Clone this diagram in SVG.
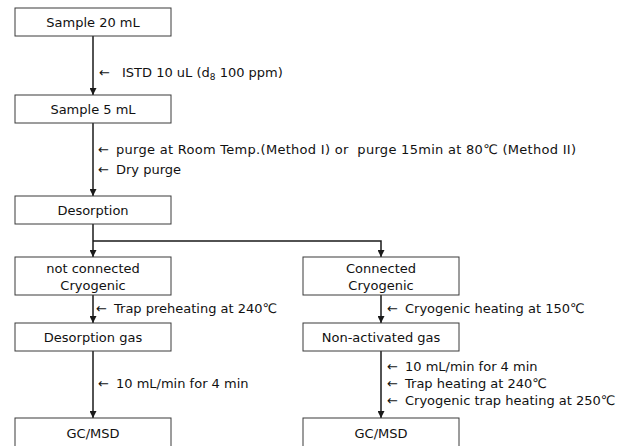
<svg xmlns="http://www.w3.org/2000/svg" width="630" height="446" viewBox="0 0 630 446">
<style>
  .box { fill: #ffffff; stroke: #3a3a3a; stroke-width: 1; }
  .t { font-family: "DejaVu Sans", "Liberation Sans", sans-serif; font-size: 13px; fill: #111111; }
  .c { text-anchor: middle; }
  .ln { fill: none; stroke: #1a1a1a; stroke-width: 1.5; marker-end: url(#ah); }
</style>
<defs>
  <marker id="ah" viewBox="0 0 8 8" refX="8" refY="4" markerWidth="8" markerHeight="7" markerUnits="userSpaceOnUse" orient="auto">
    <path d="M0,0 L8,4 L0,8 z" fill="#1a1a1a"/>
  </marker>
</defs>
<rect width="630" height="446" fill="#ffffff"/>

<g id="connectors">
  <path class="ln" d="M93,36 V95"/>
  <path class="ln" d="M93,123 V196"/>
  <path class="ln" d="M93,224 V257"/>
  <path class="ln" d="M93,241 H381 V257"/>
  <path class="ln" d="M93,295 V323"/>
  <path class="ln" d="M381,295 V323"/>
  <path class="ln" d="M93,351 V418"/>
  <path class="ln" d="M381,351 V418"/>
</g>

<g id="labels">
  <text class="t" x="99" y="77">←<tspan x="122">ISTD 10 uL (d<tspan font-size="9" dy="3">8</tspan><tspan dy="-3"> 100 ppm)</tspan></tspan></text>
  <text class="t" x="98" y="154" xml:space="preserve">←<tspan x="116" textLength="460" lengthAdjust="spacing">purge at Room Temp.(Method I) or  purge 15min at 80℃ (Method II)</tspan></text>
  <text class="t" x="98" y="174">←<tspan x="116">Dry purge</tspan></text>
  <text class="t" x="96" y="313">←<tspan x="114">Trap preheating at 240℃</tspan></text>
  <text class="t" x="98" y="388">←<tspan x="116">10 mL/min for 4 min</tspan></text>
  <text class="t" x="387" y="313">←<tspan x="405">Cryogenic heating at 150℃</tspan></text>
  <text class="t" x="387" y="371">←<tspan x="405">10 mL/min for 4 min</tspan></text>
  <text class="t" x="387" y="388">←<tspan x="405">Trap heating at 240℃</tspan></text>
  <text class="t" x="387" y="405">←<tspan x="405">Cryogenic trap heating at 250℃</tspan></text>
</g>

<g id="sample20">
  <rect class="box" x="15" y="8" width="156" height="28"/>
  <text class="t c" x="93" y="27">Sample 20 mL</text>
</g>
<g id="sample5">
  <rect class="box" x="15" y="95" width="156" height="28"/>
  <text class="t c" x="93" y="114">Sample 5 mL</text>
</g>
<g id="desorption">
  <rect class="box" x="15" y="196" width="156" height="28"/>
  <text class="t c" x="93" y="215">Desorption</text>
</g>
<g id="notconnected">
  <rect class="box" x="15" y="257" width="156" height="38"/>
  <text class="t c" x="93" y="273">not connected</text>
  <text class="t c" x="93" y="290">Cryogenic</text>
</g>
<g id="connected">
  <rect class="box" x="303" y="257" width="156" height="38"/>
  <text class="t c" x="381" y="273">Connected</text>
  <text class="t c" x="381" y="290">Cryogenic</text>
</g>
<g id="desorptiongas">
  <rect class="box" x="15" y="323" width="156" height="28"/>
  <text class="t c" x="93" y="342">Desorption gas</text>
</g>
<g id="nonactivated">
  <rect class="box" x="303" y="323" width="156" height="28"/>
  <text class="t c" x="381" y="342">Non-activated gas</text>
</g>
<g id="gcmsd1">
  <rect class="box" x="15" y="418" width="156" height="40"/>
  <text class="t c" x="93" y="438">GC/MSD</text>
</g>
<g id="gcmsd2">
  <rect class="box" x="303" y="418" width="156" height="40"/>
  <text class="t c" x="381" y="438">GC/MSD</text>
</g>
</svg>
